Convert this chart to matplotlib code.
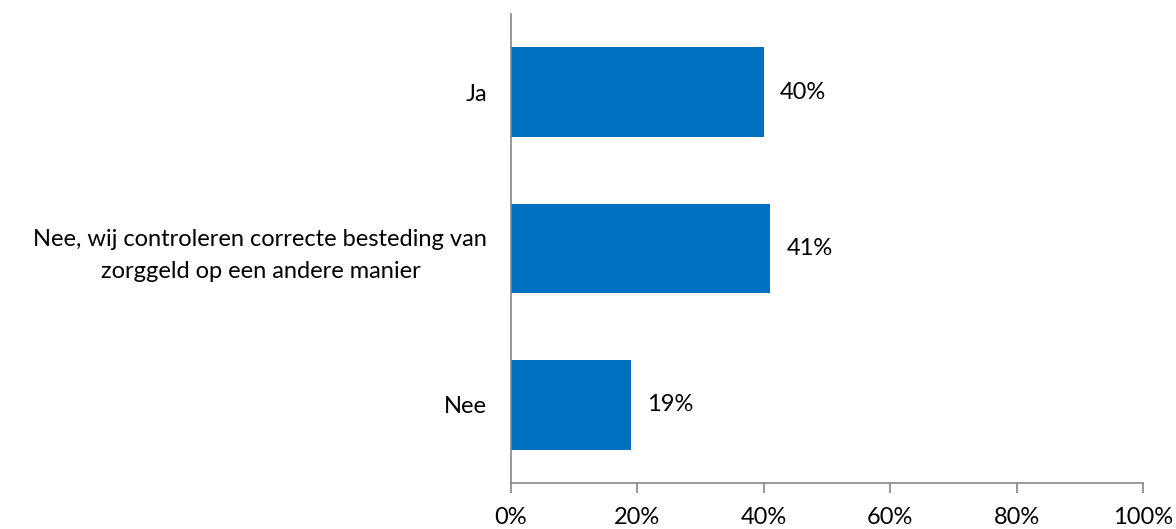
import matplotlib
matplotlib.use('Agg')
import matplotlib.pyplot as plt
from matplotlib.ticker import PercentFormatter

categories = ['Ja',
              'Nee, wij controleren correcte besteding van\nzorggeld op een andere manier',
              'Nee']
values = [40, 41, 19]
xticks = [0, 20, 40, 60, 80, 100]

plt.rcParams['font.family'] = ['Lato', 'DejaVu Sans']
fs = 17

fig = plt.figure(figsize=(11.76, 5.29), dpi=100)
ax = fig.add_axes([0.4345, 0.087, 0.5375, 0.8865])

y = list(range(len(categories)))
ax.barh(y, values, height=0.575, color='#0070C0')
for yi, v in zip(y, values):
    ax.text(v + 2.6, yi, f'{v}%', va='center', ha='left', fontsize=fs, color='black')

ax.set_ylim(len(categories) - 0.5, -0.5)
ax.set_xlim(0, 100)
ax.set_yticks(y)
ax.set_yticklabels(categories, fontsize=fs, ha='right', multialignment='center',
                   linespacing=1.6)
ax.tick_params(axis='y', length=0, pad=17)
ax.set_xticks(xticks)
ax.xaxis.set_major_formatter(PercentFormatter(decimals=0))
ax.tick_params(axis='x', length=7, width=1.2, color='#868686', labelsize=fs, pad=10)

for side in ('top', 'right'):
    ax.spines[side].set_visible(False)
for side in ('left', 'bottom'):
    ax.spines[side].set_color('#868686')
    ax.spines[side].set_linewidth(1.2)

fig.savefig('out.png', dpi=100)
